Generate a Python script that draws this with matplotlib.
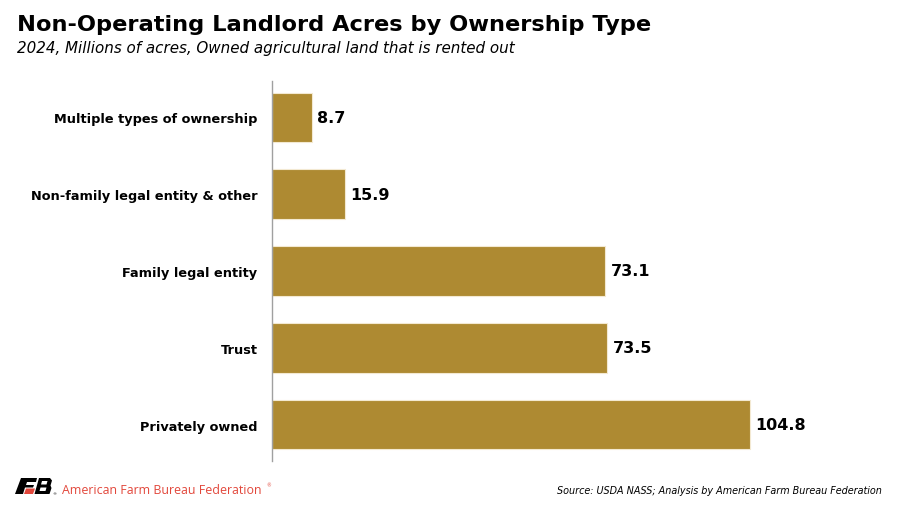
import matplotlib
matplotlib.use("Agg")
import matplotlib.pyplot as plt
from matplotlib.patches import Polygon

# Data
categories = ["Privately owned", "Trust", "Family legal entity",
              "Non-family legal entity & other", "Multiple types of ownership"]
acres = [104.8, 73.5, 73.1, 15.9, 8.7]

title = "Non-Operating Landlord Acres by Ownership Type"
subtitle = "2024, Millions of acres, Owned agricultural land that is rented out"
source = "Source: USDA NASS; Analysis by American Farm Bureau Federation"

barColor = "#AE8A32"
red = "#E2473B"

plt.rcParams["font.family"] = ["DejaVu Sans"]

fig = plt.figure(figsize=(9, 5.06), dpi=100)
W, H = 900, 506

# axes placed in pixel terms of the reference
left, right, top, bottom = 272, 880, 82, 462
ax = fig.add_axes([left / W, 1 - bottom / H, (right - left) / W, (bottom - top) / H])

ypos = list(range(len(categories)))
ax.barh(ypos, acres, height=0.64, color=barColor, edgecolor="#F3E9D2", linewidth=0.8)
for y, v in zip(ypos, acres):
    ax.text(v + 1.2, y, f"{v:.1f}", va="center", ha="left",
            fontsize=11.5, fontweight="bold", color="black")

ax.set_xlim(0, (right - left) / 4.56)
ax.set_ylim(-0.47, 4.47)
ax.set_yticks(ypos)
ax.set_yticklabels(categories, fontsize=9.3, fontweight="bold")
ax.tick_params(axis="y", length=0, pad=10.5)
ax.set_xticks([])
for s in ["top", "right", "bottom"]:
    ax.spines[s].set_visible(False)
ax.spines["left"].set_color("#A0A0A0")
ax.spines["left"].set_linewidth(1.0)

# header
fig.text(17 / W, 1 - 25 / H, title, fontsize=16.2, fontweight="bold", va="center", ha="left")
fig.text(17 / W, 1 - 48 / H, subtitle, fontsize=10.9, style="italic", va="center", ha="left")

# footer
fig.text(882 / W, 1 - 491 / H, source, fontsize=6.9, style="italic", va="center", ha="right")
fig.text(62 / W, 1 - 491 / H, "American Farm Bureau Federation", fontsize=8.9,
         family=["Open Sans", "DejaVu Sans"], color=red, va="center", ha="left")
fig.text(266 / W, 1 - 486 / H, "®", fontsize=3.5, color=red, va="center", ha="left")


def px(pts):
    return [(x / W, 1 - y / H) for x, y in pts]


# simple FB logo
logoShapes = [
    ([(21, 479), (37, 479), (36, 483), (27, 483), (26, 486), (34, 486), (33, 488.5),
      (25, 488.5), (23, 495), (15, 495)], "black"),
    ([(26, 489.5), (35, 489.5), (33, 495), (24, 495)], red),
    ([(39, 479), (50, 479), (52, 481.5), (50.5, 486.5), (51.5, 489), (49.5, 495),
      (34.5, 495)], "black"),
    ([(42, 482), (47.5, 482), (46.5, 485.5), (41, 485.5)], "white"),
    ([(40.5, 488.5), (46.5, 488.5), (45.5, 492), (39.5, 492)], "white"),
]
for pts, c in logoShapes:
    fig.patches.append(Polygon(px(pts), closed=True, transform=fig.transFigure,
                               facecolor=c, edgecolor="none"))
fig.text(52 / W, 1 - 494 / H, "®", fontsize=3, color="black", va="center", ha="left")

fig.savefig("out.png", dpi=100)
